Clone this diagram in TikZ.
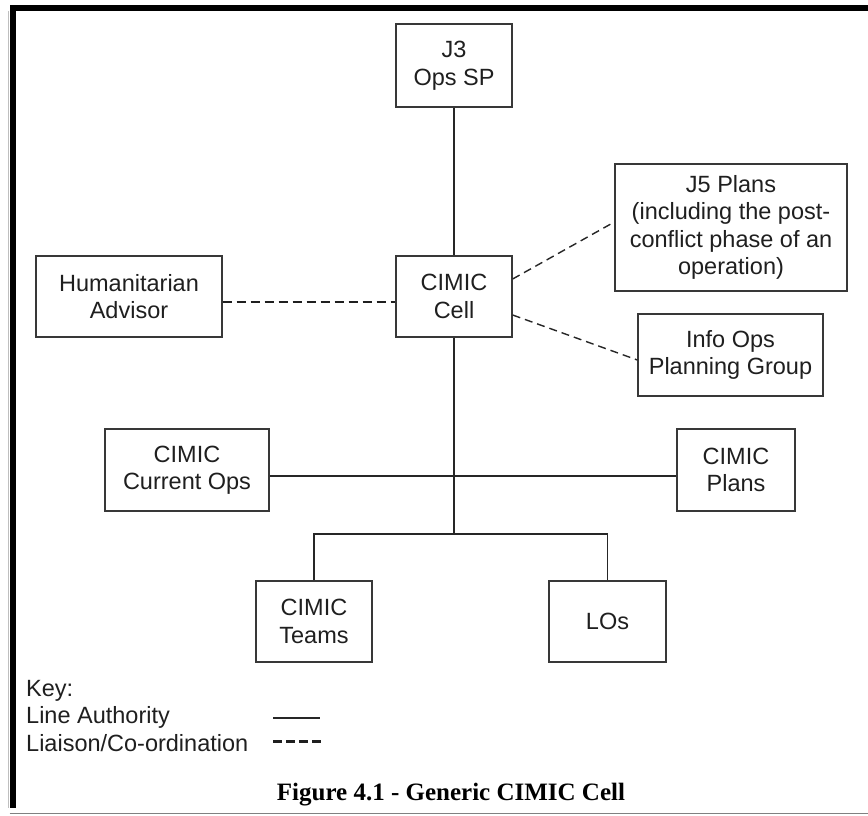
\documentclass[tikz,border=0pt]{standalone}
\usepackage{fontspec}
\setmainfont{Liberation Sans}
\newfontfamily\capfont{Liberation Serif}
\definecolor{boxcol}{gray}{0.22}
\definecolor{linecol}{gray}{0.15}
\begin{document}
\begin{tikzpicture}[x=1pt,y=-1pt,
  box/.style={draw=boxcol, line width=1.3pt, rectangle, inner sep=0pt, align=center,
    font=\fontsize{23.5}{27.5}\selectfont, text=black!88},
  keytext/.style={inner sep=0pt, anchor=base west, font=\fontsize{23.5}{27.5}\selectfont, text=black!88},
  solidl/.style={draw=linecol, line width=1.3pt},
  dashl/.style={draw=linecol, line width=1.4pt, dash pattern=on 8pt off 5pt},
  dashthick/.style={draw=black!88, line width=2.6pt, dash pattern=on 9pt off 5pt},
  keydash/.style={draw=black!88, line width=3pt, dash pattern=on 9pt off 4pt},
]
\useasboundingbox[fill=white] (0,0) rectangle (868,816);
% frame
\fill[black] (9.5,5) rectangle (15.5,808);
\fill[black] (9.5,5) rectangle (868,11);
\draw[gray, line width=1pt] (9.5,813) -- (868,813);
\draw[gray!50, line width=0.8pt] (8,11) -- (8,808);

% boxes
\node[box, minimum width=116pt, minimum height=83pt] (j3) at (454,65.5) {J3\\Ops SP};
\node[box, minimum width=116pt, minimum height=81pt] (cell) at (454,296.5) {CIMIC\\Cell};
\node[box, minimum width=186pt, minimum height=81pt] (hum) at (129,296.5) {Humanitarian\\Advisor};
\node[box, minimum width=232pt, minimum height=127pt] (j5) at (731,227.5) {J5 Plans\\(including the post-\\conflict phase of an\\operation)};
\node[box, minimum width=185pt, minimum height=82pt] (info) at (730.5,355) {Info Ops\\Planning Group};
\node[box, minimum width=164pt, minimum height=82pt] (curops) at (187,470) {CIMIC\\Current Ops};
\node[box, minimum width=118pt, minimum height=82pt] (plans) at (736,470) {CIMIC\\Plans};
\node[box, minimum width=116pt, minimum height=81pt] (teams) at (314,621.5) {CIMIC\\Teams};
\node[box, minimum width=117pt, minimum height=81pt] (los) at (607.5,621.5) {LOs};

\coordinate (hub) at (454,476);
\coordinate (branch) at (454,534);

% line authority
\draw[solidl] (j3.south) -- (cell.north);
\draw[solidl] (cell.south) -- (branch);
\draw[solidl] (curops.east |- hub) -- (plans.west |- hub);
\draw[solidl] (teams.north) |- (branch) -| (los.north);

% liaison
\draw[dashthick] (hum.east |- 0,302) -- (cell.west |- 0,302);
\draw[dashl] (cell.east |- 0,279) -- (j5.west |- 0,222);
\draw[dashl] (cell.east |- 0,315) -- (info.west |- 0,360);

% key
\node[keytext] (key) at (26,696) {Key:};
\node[keytext] (kla) at (26,723) {Line Authority};
\node[keytext] (klc) at (26,751) {Liaison/Co-ordination};
\coordinate (s1a) at (273,718);
\coordinate (s1b) at (320,718);
\coordinate (s2a) at (273,741);
\coordinate (s2b) at (321,741);
\draw[solidl, line width=1.1pt] (s1a) -- (s1b);
\draw[keydash] (s2a) -- (s2b);

% caption
\node[inner sep=0pt, anchor=base, font=\capfont\bfseries\fontsize{25}{28}\selectfont] (cap) at (451,800) {Figure 4.1 - Generic CIMIC Cell};
\end{tikzpicture}
\end{document}
